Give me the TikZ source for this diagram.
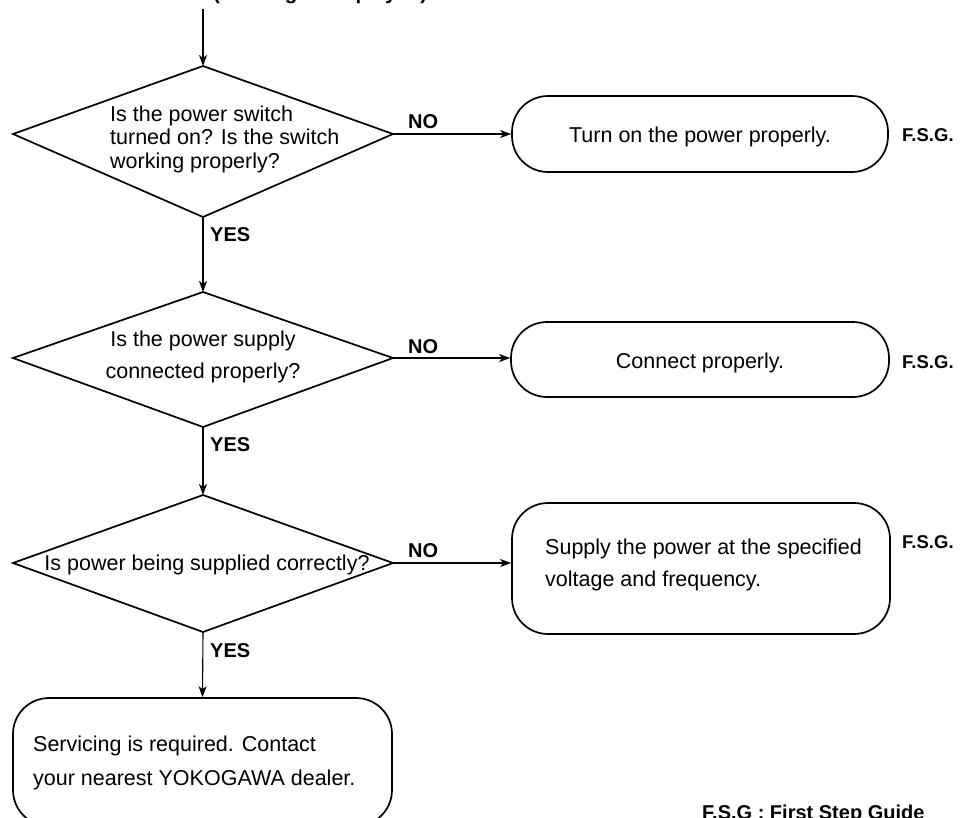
\documentclass[tikz,border=0pt]{standalone}
\usepackage{fontspec}
\setmainfont{Liberation Sans}
\usetikzlibrary{arrows.meta}
\tikzset{
  dia/.style={draw, line width=1.7pt, line join=miter},
  rbox/.style={draw, line width=1.7pt, rounded corners=36pt, inner sep=0pt},
  conn/.style={line width=1.1pt, -{Stealth[length=11pt,width=8pt,inset=3pt]}},
  txt/.style={inner sep=0pt, font=\fontsize{21.5}{32.5}\selectfont},
  lbl/.style={inner sep=0pt, font=\bfseries\fontsize{20}{24}\selectfont},
  fsg/.style={inner sep=0pt, font=\bfseries\fontsize{18.5}{22}\selectfont},
}
\begin{document}
\begin{tikzpicture}[x=1pt,y=-1pt]
\useasboundingbox (0,0) rectangle (963,817);
\begin{scope}
\clip (0,0) rectangle (963,817);
\node[lbl, anchor=base west, font=\bfseries\fontsize{20.5}{24}\selectfont] (head) at (213,-1) {(Nothing is displayed)};
\end{scope}
\coordinate (start) at (203,9);

% diamonds
\coordinate (d1t) at (203,66); \coordinate (d1l) at (13,134);
\coordinate (d1r) at (393,134); \coordinate (d1b) at (203,217);
\coordinate (d2t) at (203,292); \coordinate (d2l) at (13,358);
\coordinate (d2r) at (393,358); \coordinate (d2b) at (203,427);
\coordinate (d3t) at (203,495); \coordinate (d3l) at (13,563);
\coordinate (d3r) at (393,563); \coordinate (d3b) at (203,632);
\draw[dia] (d1t) -- (d1r) -- (d1b) -- (d1l) -- cycle;
\draw[dia] (d2t) -- (d2r) -- (d2b) -- (d2l) -- cycle;
\draw[dia] (d3t) -- (d3r) -- (d3b) -- (d3l) -- cycle;

\node[txt, anchor=north west, align=left, font=\fontsize{21.5}{23.5}\selectfont] (q1) at (110,105.5)
  {Is the power switch\\turned on? Is the switch\\working properly?};
\node[txt, anchor=north, align=center, font=\fontsize{21.5}{31.5}\selectfont] (q2) at (203,331)
  {Is the power supply\\connected properly?};
\node[txt, anchor=base] (q3) at (207,570) {Is power being supplied correctly?};

% boxes
\node[rbox, minimum width=376pt, minimum height=76pt] (b1) at (700,134) {};
\node[rbox, minimum width=378pt, minimum height=75pt] (b2) at (700,359.5) {};
\node[rbox, minimum width=378pt, minimum height=131pt] (b3) at (701,568.5) {};
\node[rbox, minimum width=379pt, minimum height=128pt] (b4) at (202.5,762) {};

\node[txt, anchor=base] (t1) at (700,142) {Turn on the power properly.};
\node[txt, anchor=base] (t2) at (700,368) {Connect properly.};
\node[txt, anchor=north west, align=left, font=\fontsize{21.5}{32.7}\selectfont] (t3) at (545,538.5)
  {Supply the power at the specified\\voltage and frequency.};
\node[txt, anchor=north west, align=left, font=\fontsize{21.5}{34}\selectfont] (t4) at (33,736)
  {Servicing is required. Contact\\your nearest YOKOGAWA dealer.};

% F.S.G. labels
\node[fsg, anchor=base west] (f1) at (902,141.7) {F.S.G.};
\node[fsg, anchor=base west] (f2) at (902,368) {F.S.G.};
\node[fsg, anchor=base west] (f3) at (902,548) {F.S.G.};
\node[lbl, anchor=base west] (legend) at (702,819.5) {F.S.G : First Step Guide};

% connectors
\draw[conn] (start) -- (d1t);
\draw[conn] (d1b) -- (d2t);
\draw[conn] (d2b) -- (d3t);
\draw[conn] (d3b) -- (b4.north);
\draw[conn] (d1r) -- (d1r -| b1.west);
\draw[conn] (d2r) -- (d2r -| b2.west);
\draw[conn] (d3r) -- (d3r -| b3.west);

% labels
\node[lbl, anchor=base west] (no1) at (408,128) {NO};
\node[lbl, anchor=base west] (no2) at (408,353) {NO};
\node[lbl, anchor=base west] (no3) at (408,557) {NO};
\node[lbl, anchor=base west] (yes1) at (210,241) {YES};
\node[lbl, anchor=base west] (yes2) at (210,451) {YES};
\node[lbl, anchor=base west] (yes3) at (210,657) {YES};
\end{tikzpicture}
\end{document}
